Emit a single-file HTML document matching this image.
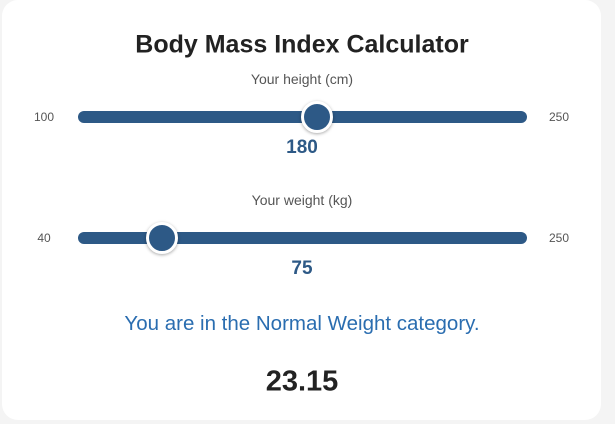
<!DOCTYPE html>
<html><head><meta charset="utf-8"><style>
body{margin:0;width:615px;height:424px;background:#f4f4f4;font-family:"Liberation Sans",sans-serif;position:relative;overflow:hidden}
.card{position:absolute;left:2px;top:0;width:599px;height:420px;background:#fff;border-radius:16px}
.t{position:absolute;white-space:nowrap;transform:translate(-50%,-50%)}
.track{position:absolute;left:76px;width:449px;height:12px;border-radius:6px;background:#2d5986}
.thumb{position:absolute;width:26px;height:26px;border-radius:50%;background:#2d5986;border:3px solid #fff;box-shadow:0 1px 3px rgba(0,0,0,.35);transform:translate(-50%,-50%)}
</style></head><body>
<div class="card">
<div class="t" style="left:300px;top:45px;font-size:25px;font-weight:bold;color:#222">Body Mass Index Calculator</div>
<div class="t" style="left:300px;top:79px;font-size:14px;color:#555">Your height (cm)</div>
<div class="t" style="left:42px;top:117px;font-size:12px;color:#555">100</div>
<div class="t" style="left:557px;top:117px;font-size:12px;color:#555">250</div>
<div class="track" style="top:111px"></div>
<div class="thumb" id="hth" style="top:117px"></div>
<div class="t" id="hv" style="left:300px;top:148px;font-size:19px;font-weight:bold;color:#2d5986"></div>
<div class="t" style="left:300px;top:200px;font-size:14px;color:#555">Your weight (kg)</div>
<div class="t" style="left:42px;top:238px;font-size:12px;color:#555">40</div>
<div class="t" style="left:557px;top:238px;font-size:12px;color:#555">250</div>
<div class="track" style="top:232px"></div>
<div class="thumb" id="wth" style="top:238px"></div>
<div class="t" id="wv" style="left:300px;top:269px;font-size:19px;font-weight:bold;color:#2d5986"></div>
<div class="t" id="msg" style="left:300px;top:324px;font-size:20.5px;color:#2a6db0"></div>
<div class="t" id="bmi" style="left:300px;top:382px;font-size:29px;font-weight:bold;color:#222"></div>
</div>
<script>
const heightRange=[100,250];
const weightRange=[40,250];
const heightValue=180;
const weightValue=75;
function pos(v,r){return 92+(v-r[0])/(r[1]-r[0])*421;}
document.getElementById('hth').style.left=pos(heightValue,heightRange)-2+'px';
document.getElementById('wth').style.left=pos(weightValue,weightRange)-2+'px';
document.getElementById('hv').textContent=heightValue;
document.getElementById('wv').textContent=weightValue;
const b=weightValue/Math.pow(heightValue/100,2);
const cat=b<18.5?'Underweight':b<25?'Normal Weight':b<30?'Overweight':'Obese';
document.getElementById('msg').textContent='You are in the '+cat+' category.';
document.getElementById('bmi').textContent=b.toFixed(2);
</script>
</body></html>
